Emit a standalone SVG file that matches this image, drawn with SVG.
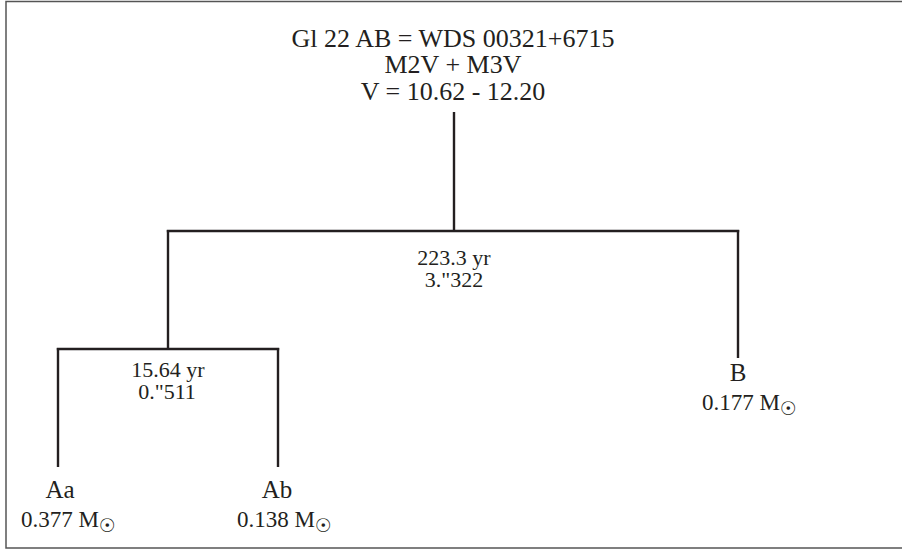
<svg xmlns="http://www.w3.org/2000/svg" width="902" height="550" viewBox="0 0 902 550">
<style>
text{font-family:"Liberation Serif","Times New Roman",serif;fill:#231f20;text-anchor:middle}
.t{font-size:26px}
.o{font-size:22px}
.n{font-size:25px}
.m{font-size:23px;text-anchor:start}
.sun{font-family:"DejaVu Sans",sans-serif;font-size:19px}
.c line{stroke:#231f20;stroke-width:2.4}
</style>
<rect x="6" y="1.5" width="900" height="546.5" fill="#fff" stroke="#555" stroke-width="1.5"/>
<g id="root">
<text class="t" x="453" y="47">Gl 22 AB = WDS 00321+6715</text>
<text class="t" x="453" y="73">M2V + M3V</text>
<text class="t" x="453" y="100">V = 10.62 - 12.20</text>
</g>
<g class="c" id="connectors">
<line x1="454" y1="112" x2="454" y2="231"/>
<line x1="166.8" y1="231" x2="739.2" y2="231"/>
<line x1="168" y1="230" x2="168" y2="349"/>
<line x1="738" y1="230" x2="738" y2="358"/>
<line x1="56.8" y1="349" x2="279.2" y2="349"/>
<line x1="58" y1="348" x2="58" y2="467"/>
<line x1="278" y1="348" x2="278" y2="467"/>
</g>
<g id="orbitAB">
<text class="o" x="454" y="265">223.3 yr</text>
<text class="o" x="454" y="287">3."322</text>
</g>
<g id="orbitA">
<text class="o" x="168" y="377">15.64 yr</text>
<text class="o" x="167" y="399">0."511</text>
</g>
<g id="B">
<text class="n" x="738" y="381">B</text>
<text class="m" x="702" y="410">0.177 M<tspan class="sun" dy="5">☉</tspan></text>
</g>
<g id="Aa">
<text class="n" x="60" y="498">Aa</text>
<text class="m" x="21" y="527">0.377 M<tspan class="sun" dy="5">☉</tspan></text>
</g>
<g id="Ab">
<text class="n" x="277" y="498">Ab</text>
<text class="m" x="237" y="527">0.138 M<tspan class="sun" dy="5">☉</tspan></text>
</g>
</svg>
